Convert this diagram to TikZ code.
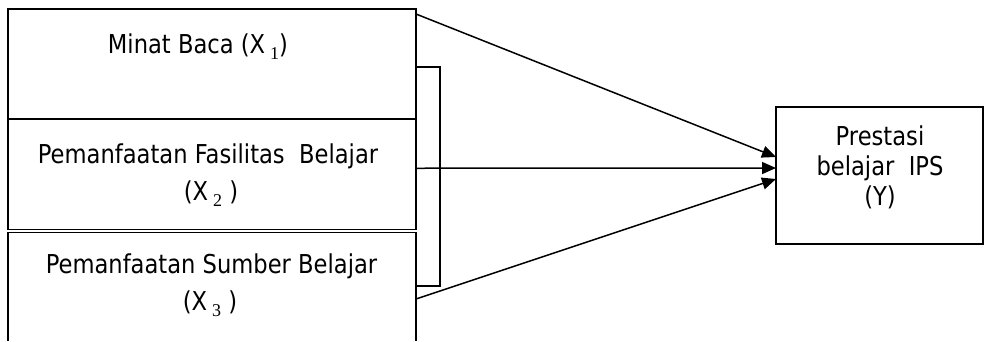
\documentclass[tikz,border=0pt]{standalone}
\usepackage{fontspec}
\setmainfont[FakeStretch=0.87]{DejaVu Sans}
\newfontfamily\subfont{Liberation Serif}
\usetikzlibrary{arrows.meta}
\newcommand{\subnum}[1]{\raisebox{-6pt}{\fontsize{18}{18}\subfont #1}}
\begin{document}
\begin{tikzpicture}[x=1pt,y=-1pt,
  box/.style={draw, line width=1.7pt, inner sep=0pt, outer sep=0pt},
  txt/.style={anchor=base, inner sep=0pt, font=\fontsize{26}{30}\selectfont},
  arr/.style={line width=1.5pt, -{Triangle[length=14pt,width=12pt]}},
  bracketline/.style={line width=1.5pt}]
\useasboundingbox[fill=white] (0,0) rectangle (985,341);
% left boxes
\node[box, minimum width=408pt, minimum height=110pt] (b1) at (212,64) {};
\node[box, minimum width=408pt, minimum height=110.5pt] (b2) at (212,174.25) {};
\node[inner sep=0pt, outer sep=0pt, minimum width=408pt, minimum height=108.5pt] (b3) at (212,286.75) {};
\draw[line width=1.7pt] (b3.south west) -- (b3.north west) -- (b3.north east) -- (b3.south east);
% right box
\node[box, minimum width=207pt, minimum height=137pt] (y) at (879.5,175.5) {};
% texts
\node[txt] (t1) at (198,53) {Minat Baca (X\hspace{5pt}\subnum{1})};
\node[txt] (t2a) at (208,163) {Pemanfaatan Fasilitas \ Belajar};
\node[txt] (t2b) at (211,200) {(X\hspace{5pt}\subnum{2} )};
\node[txt] (t3a) at (211.5,273) {Pemanfaatan Sumber Belajar};
\node[txt] (t3b) at (210,310) {(X\hspace{5pt}\subnum{3} )};
\node[txt] (ty1) at (880,145) {Prestasi};
\node[txt] (ty2) at (880,175) {belajar \ IPS};
\node[txt] (ty3) at (880,205) {(Y)};
% bracket
\draw[bracketline] (416,67) -| (440,286) -- (416,286);
% arrows
\draw[arr] ([yshift=-5pt]b1.north east) -- ([yshift=18.5pt]y.west);
\draw[arr] ([yshift=6pt]b2.east) -- ([yshift=7.5pt]y.west);
\draw[arr] ([yshift=-12.25pt]b3.east) -- ([yshift=-3.5pt]y.west);
\end{tikzpicture}
\end{document}
